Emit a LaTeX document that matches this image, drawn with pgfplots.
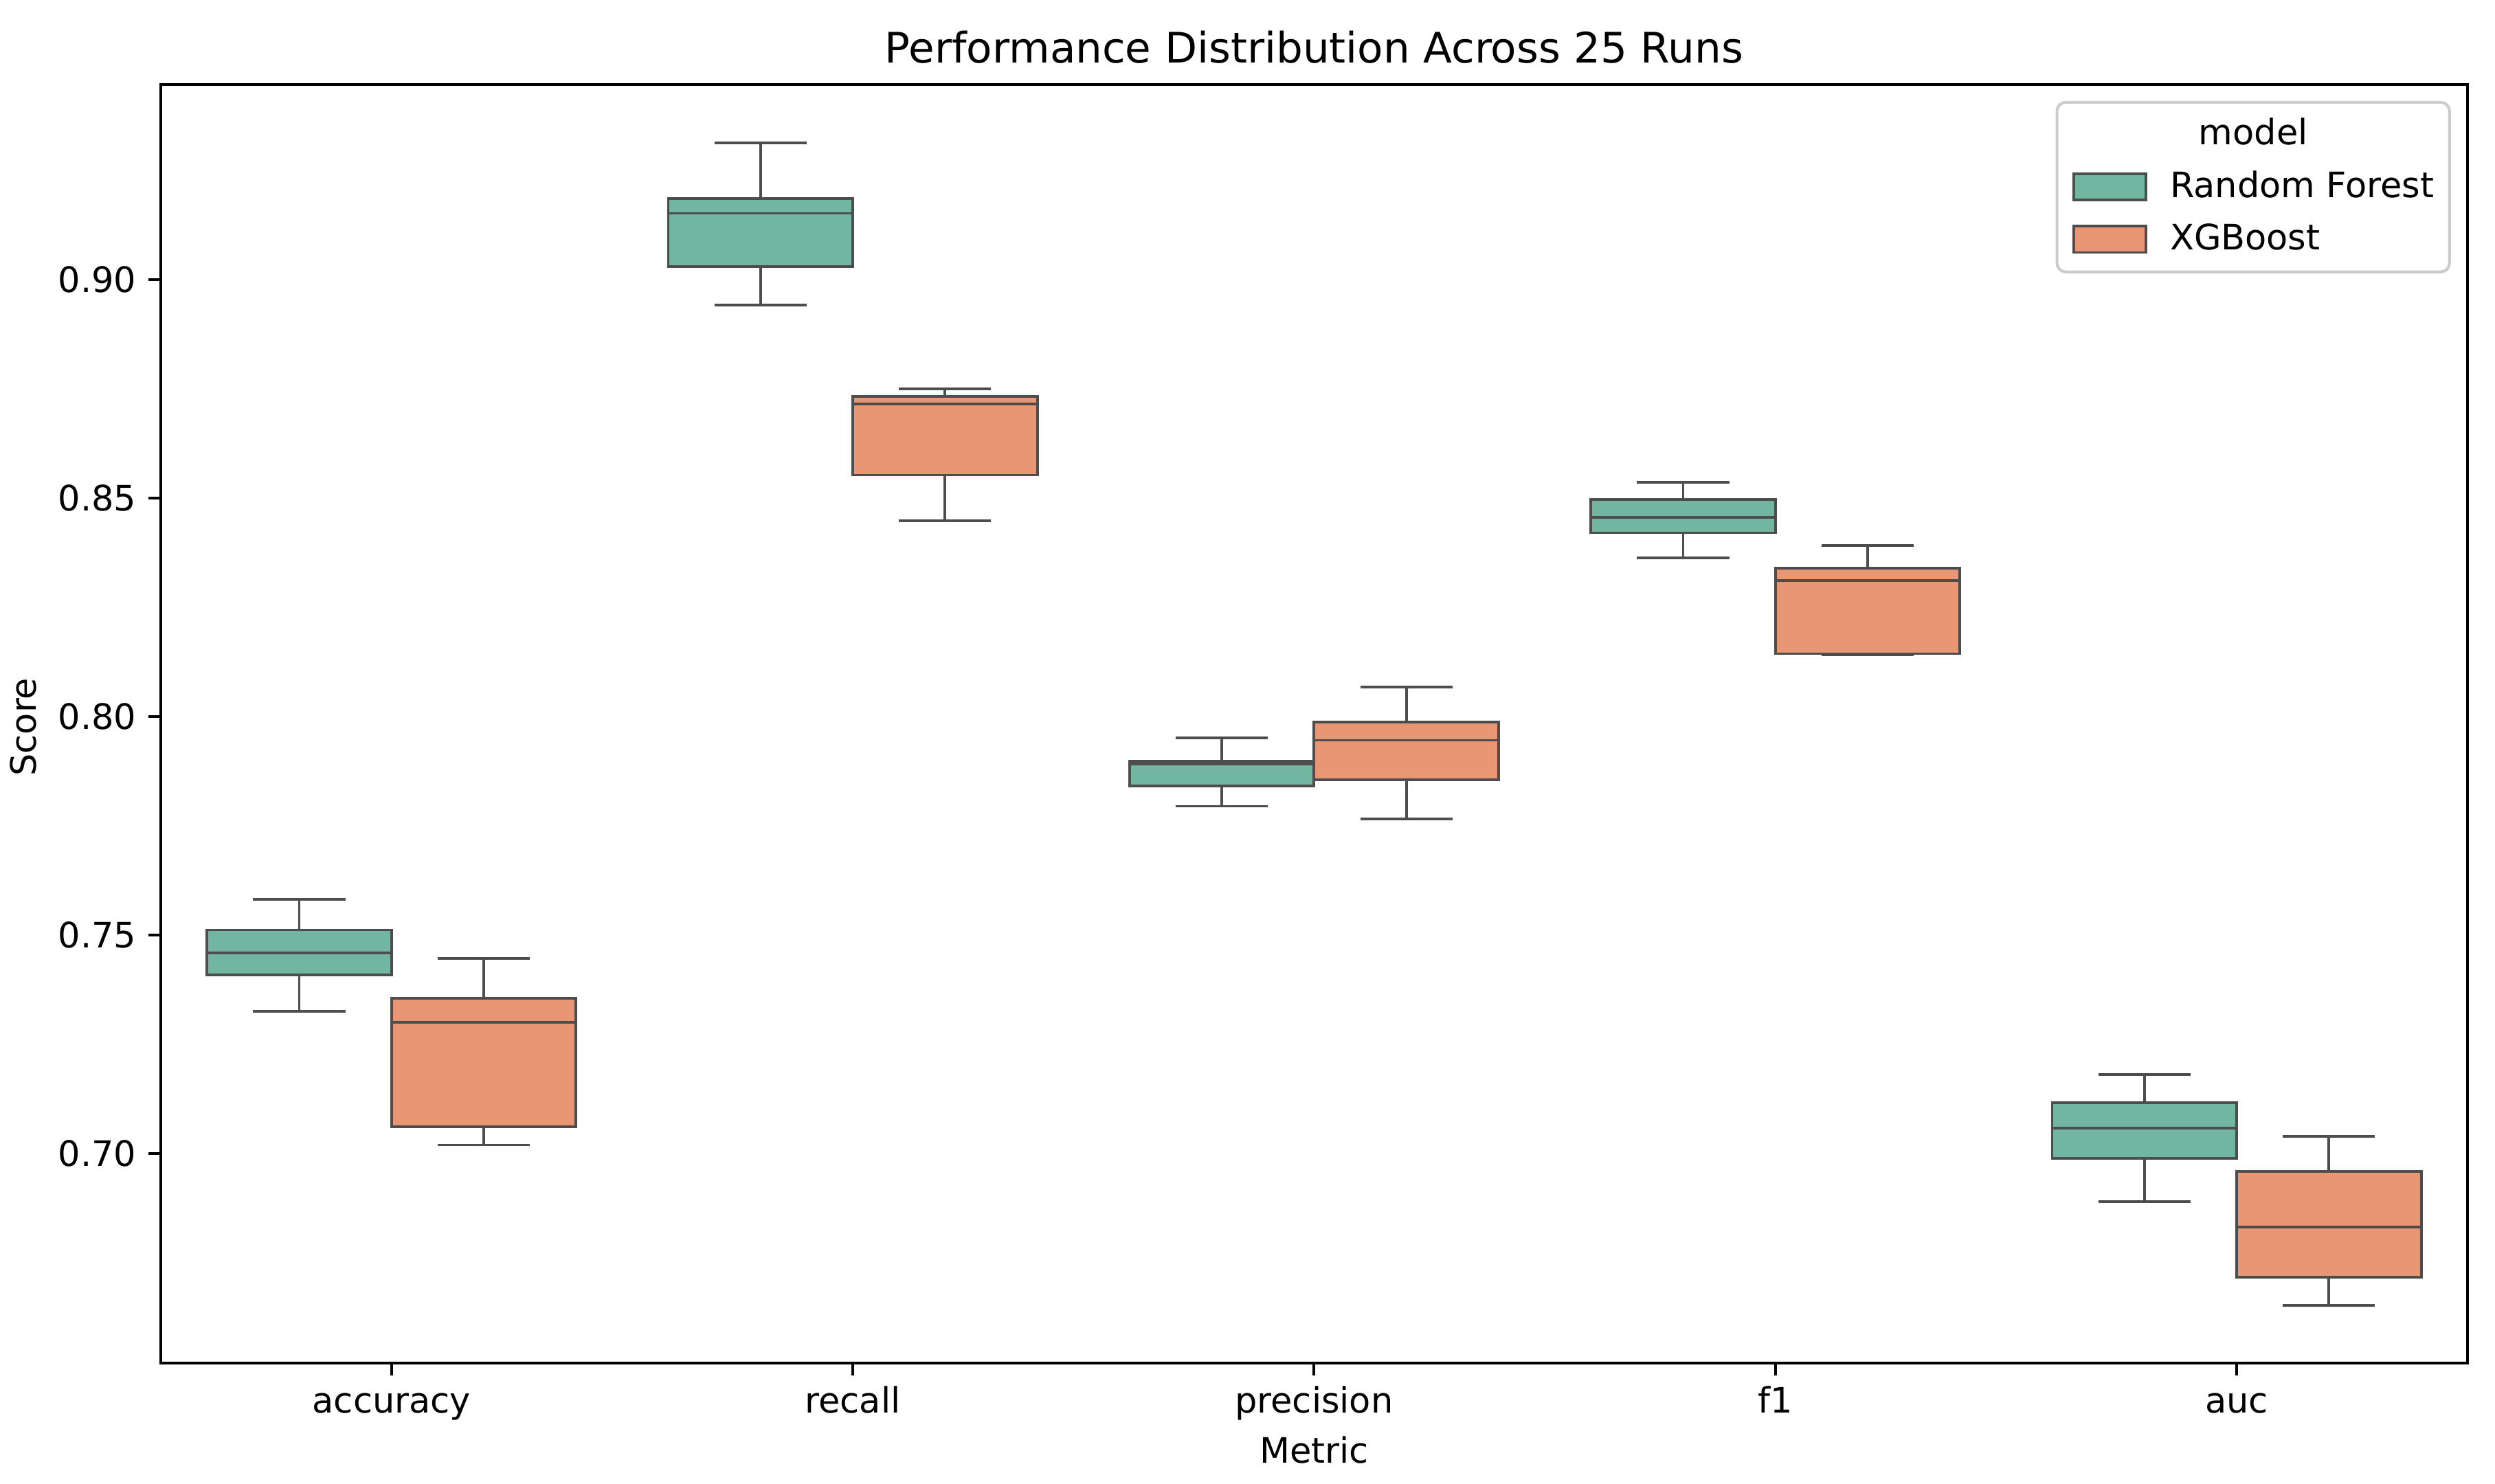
\documentclass[border=0pt]{standalone}
\usepackage{fontspec}
\setmainfont{DejaVu Sans}
\usepackage{pgfplots}
\pgfplotsset{compat=1.18}
\usepgfplotslibrary{statistics}

\definecolor{rfcol}{HTML}{71B6A1}
\definecolor{xgbcol}{HTML}{E99675}
\definecolor{boxline}{HTML}{4D4D4D}
\definecolor{legframe}{HTML}{CCCCCC}

% #1 fill, #2 draw position, #3 lower whisker, #4 Q1, #5 median, #6 Q3, #7 upper whisker
\newcommand{\scorebox}[7]{%
  \addplot[fill=#1, draw=boxline, line width=0.75pt, forget plot,
    boxplot/draw direction=y,
    boxplot prepared={draw position=#2, box extend=0.4, whisker extend=0.2,
      lower whisker=#3, lower quartile=#4, median=#5,
      upper quartile=#6, upper whisker=#7}] coordinates {};}

\begin{document}
\begin{tikzpicture}
\useasboundingbox (-45.9pt,-34.5pt) rectangle (666.1pt,389.0pt);
\begin{axis}[
  scale only axis, width=658.2pt, height=364.9pt,
  xmin=-0.5, xmax=4.5, ymin=0.6521, ymax=0.9447,
  xtick={0,1,2,3,4},
  xticklabels={accuracy,recall,precision,f1,auc},
  ytick={0.70,0.75,0.80,0.85,0.90},
  yticklabel style={/pgf/number format/.cd, fixed, fixed zerofill, precision=2},
  /pgf/number format/assume math mode=true,
  tick align=outside, major tick length=3.5pt,
  xtick pos=bottom, ytick pos=left,
  axis line style={line width=0.8pt},
  tick style={black, line width=0.8pt},
  tick label style={font=\fontsize{10}{12}\selectfont},
  xticklabel style={anchor=base, inner sep=0pt, yshift=-10.8pt},
  xlabel={Metric},
  xlabel style={font=\fontsize{10}{12}\selectfont, at={(axis description cs:0.5,-0.0784)}, anchor=base},
  ylabel={Score},
  ylabel style={font=\fontsize{10}{12}\selectfont, at={(axis description cs:-0.0542,0.4974)}, anchor=base, rotate=0},
  legend style={draw=none, fill=none, inner sep=0pt, row sep=6.0pt, column sep=6.5pt,
    at={(axis description cs:0.8285,0.9330)}, anchor=north west,
    font=\fontsize{10}{12}\selectfont, nodes={inner sep=0pt}},
  legend cell align=left,
]
% accuracy
\scorebox{rfcol}{-0.2}{0.7326}{0.7409}{0.7460}{0.7512}{0.7582}
\scorebox{xgbcol}{0.2}{0.7020}{0.7062}{0.7300}{0.7355}{0.7447}
% recall
\scorebox{rfcol}{0.8}{0.8942}{0.9030}{0.9152}{0.9186}{0.9313}
\scorebox{xgbcol}{1.2}{0.8448}{0.8553}{0.8716}{0.8733}{0.8750}
% precision
\scorebox{rfcol}{1.8}{0.7795}{0.7841}{0.7892}{0.7898}{0.7952}
\scorebox{xgbcol}{2.2}{0.7766}{0.7855}{0.7946}{0.7988}{0.8068}
% f1
\scorebox{rfcol}{2.8}{0.8363}{0.8421}{0.8456}{0.8497}{0.8537}
\scorebox{xgbcol}{3.2}{0.8141}{0.8144}{0.8311}{0.8340}{0.8392}
% auc
\scorebox{rfcol}{3.8}{0.6890}{0.6989}{0.7059}{0.7117}{0.7181}
\scorebox{xgbcol}{4.2}{0.6653}{0.6717}{0.6832}{0.6959}{0.7040}

\addlegendimage{legend image code/.code={\draw[fill=rfcol, draw=boxline, line width=0.75pt] (0pt,-3.75pt) rectangle (20.6pt,3.75pt);}}
\addlegendentry{Random Forest}
\addlegendimage{legend image code/.code={\draw[fill=xgbcol, draw=boxline, line width=0.75pt] (0pt,-3.75pt) rectangle (20.6pt,3.75pt);}}
\addlegendentry{XGBoost}
\end{axis}
% title, legend frame and legend title
\node[anchor=base, inner sep=0pt, font=\fontsize{12}{14}\selectfont] at (329.1pt,371.0pt)
  {Performance Distribution Across 25 Runs};
\draw[legframe, line width=0.8pt, rounded corners=2.5pt] (541.1pt,311.4pt) rectangle (653.1pt,359.8pt);
\node[anchor=base, inner sep=0pt, font=\fontsize{10}{12}\selectfont] at (597.1pt,347.8pt) {model};
\end{tikzpicture}
\end{document}
